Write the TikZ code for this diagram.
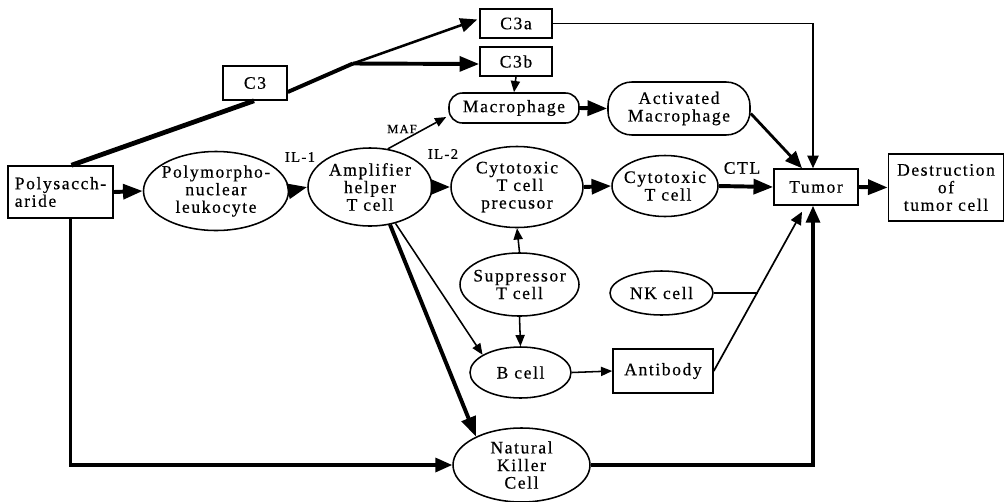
\documentclass[tikz,border=0pt]{standalone}
\usepackage{fontspec}
\setmainfont{Liberation Serif}[LetterSpace=9, FakeBold=0.5]
\usetikzlibrary{arrows.meta,shapes.geometric,calc}
\newdimen\pxu \pxu=0.025cm
\begin{document}
\begin{tikzpicture}[x=0.025cm,y=-0.025cm,
  txt/.style={font=\fontsize{12.5}{12.5}\selectfont, align=center, inner sep=0},
  ell/.style 2 args={draw, line width=1.1pt, ellipse, inner sep=0, minimum width={#1*\pxu}, minimum height={#2*\pxu}},
  rbox/.style 2 args={draw, line width=1.1pt, rectangle, inner sep=0, font=\fontsize{12.5}{12.5}\selectfont, align=center, minimum width={#1*\pxu}, minimum height={#2*\pxu}},
  rrbox/.style 2 args={rbox={#1}{#2}, rounded corners={#2*0.45*\pxu}},
  big/.style={line width=2.8pt, -{Triangle[length=14pt,width=10.5pt]}},
  mid/.style={line width=2pt, -{Triangle[length=12pt,width=10pt]}},
  med/.style={line width=1.5pt, -{Triangle[length=9pt,width=8pt]}},
  thin/.style={line width=1.1pt, -{Triangle[length=8pt,width=6.5pt]}},
  small/.style={font=\fontsize{10.5}{10.5}\selectfont, inner sep=0}
]
\useasboundingbox (0,0) rectangle (1005,501);

% nodes
\node[rbox={105}{52}] (poly) at (60.5,192) {};
\node[txt, align=left] (polyt) at (poly) {Polysacch-\\aride};
\node[ell={145}{79}] (pmn) at (216,191) {};
\node[txt] (pmnt) at (pmn) {Polymorpho-\\nuclear\\leukocyte};
\node[ell={124}{78}] (amp) at (370,187) {};
\node[txt] (ampt) at (amp) {Amplifier\\helper\\T cell};
\node[ell={132}{81}] (ctp) at (517,187) {};
\node[txt] (ctpt) at (ctp) {Cytotoxic\\\ T cell\\precusor};
\node[ell={106}{61}] (ctc) at (665,186) {};
\node[txt] (ctct) at (ctc) {Cytotoxic\\\ T cell};
\node[rbox={84}{36}] (tumor) at (816,187) {Tumor};
\node[rbox={115}{67}] (dest) at (946,187.5) {Destruction\\of\\tumor cell};
\node[rrbox={130}{30}] (mac) at (514,108) {Macrophage};
\node[rrbox={142}{53}] (am) at (679,108.5) {Activated\\Macrophage};
\node[rbox={72}{29}] (c3a) at (516,23.5) {C3a};
\node[rbox={72}{29}] (c3b) at (516,61.5) {C3b};
\node[rbox={64}{34}] (c3) at (255,83) {C3};
\node[ell={119}{63}] (sup) at (519.5,284.5) {};
\node[txt] (supt) at (sup) {Suppressor\\T cell};
\node[ell={101}{51}] (bc) at (520.5,372.5) {};
\node[txt] (bct) at (bc) {B cell};
\node[rbox={100}{44}] (ab) at (663,371) {Antibody};
\node[ell={103}{44}] (nk) at (661.5,293) {};
\node[txt] (nkt) at (nk) {NK cell};
\node[ell={137}{74}] (nkc) at (521.5,465) {};
\node[txt] (nkct) at (nkc) {Natural\\Killer\\Cell};

% labels
\node[small] (il1) at (300,157) {IL-1};
\node[small] (il2) at (443,154) {IL-2};
\node[font=\fontsize{9}{9}\selectfont, inner sep=0] (maf) at (402,129) {MAF};
\node[txt] (ctl) at (742,168) {CTL};

% complement branch
\coordinate (jn) at (353,63.5);
\draw[line width=3.4pt] ($(poly.north)+(11,0)$) -- ($(c3.south)+(-1,0)$);
\draw[line width=2.8pt] ($(c3.east)+(0,9)$) -- (jn);
\draw[mid, line width=1.8pt] (jn) -- ($(c3a.west)+(-2,-4)$);
\draw[big] (jn) -- ($(c3b.west)+(0,2.5)$);
\draw[med, line width=1.3pt] (c3a.east) -| ($(tumor.north)+(-3,0)$);
\draw[thin] (c3b.south) -- (mac.north);
\draw[big] (mac.east) -- (am.west);
\draw[mid] ($(am.east)+(0,5)$) -- ($(tumor.north)+(-14,0)$);

% main chain
\draw[big] (poly.east) -- (pmn.west);
\draw[big] (pmn.east) -- (amp.west);
\draw[big] (amp.east) -- (ctp.west);
\draw[big] (ctp.east) -- (ctc.west);
\draw[big] (ctc.east) -- (tumor.west);
\draw[big] (tumor.east) -- (dest.west);
\draw[thin] (amp.65) -- ($(mac.west)+(-2,9)$);

% lower part
\draw[thin] (sup.north) -- (ctp.south);
\draw[thin] (sup.south) -- (bc.north);
\draw[thin] (amp.-55) -- (bc.155);
\draw[big] (amp.-62) -- (nkc.148);
\draw[thin] (bc.east) -- (ab.west);
\coordinate (tin) at ($(tumor.south)+(-14,6)$);
\draw[med, line width=1.2pt] (ab.east) -- (tin);
\coordinate (mk) at ($(ab.east)!0.5!(tin)$);
\draw[line width=1.1pt] (nk.east) -- (nk.east -| mk);
\draw[mid, line width=2.2pt] (nkc.east) -| ($(tumor.south)+(-3,0)$);
\draw[mid, line width=2.2pt] ($(poly.south)+(10,0)$) |- (nkc.west);
\end{tikzpicture}
\end{document}
